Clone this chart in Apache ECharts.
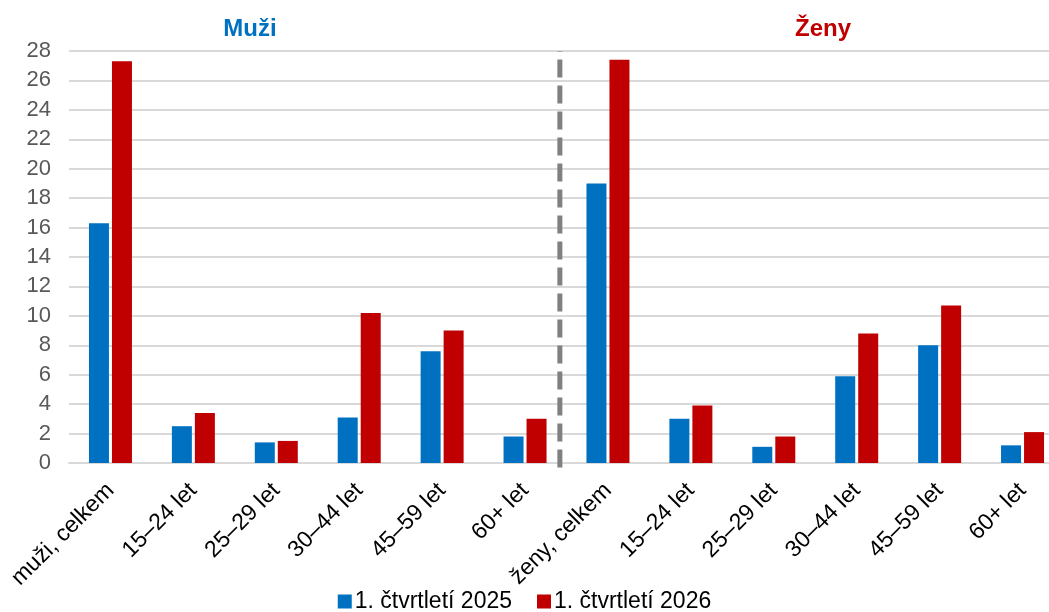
<!DOCTYPE html>
<html>
<head>
<meta charset="utf-8">
<script src="https://cdn.jsdelivr.net/npm/echarts@6/dist/echarts.min.js"></script>
<style>
  html, body { margin: 0; padding: 0; background: #fff; }
  #main { width: 1049px; height: 612px; }
</style>
</head>
<body>
<div id="main"></div>
<script>
// kategorie na ose x
const categories = ['muži, celkem', '15–24 let', '25–29 let', '30–44 let', '45–59 let', '60+ let',
  'ženy, celkem', '15–24 let', '25–29 let', '30–44 let', '45–59 let', '60+ let']
const seriesNames = ['1. čtvrtletí 2025', '1. čtvrtletí 2026']
const values2025 = [16.3, 2.5, 1.4, 3.1, 7.6, 1.8, 19.0, 3.0, 1.1, 5.9, 8.0, 1.2]
const values2026 = [27.3, 3.4, 1.5, 10.2, 9.0, 3.0, 27.4, 3.9, 1.8, 8.8, 10.7, 2.1]
const groupTitles = ['Muži', 'Ženy']
// hranice mezi skupinami (v jednotkách kategorií)
const dividerAt = 5.92

const font = '"Liberation Sans", Arial, sans-serif'
const chart = echarts.init(document.getElementById('main'))

const option = {
  animation: false,
  title: [
    {
      text: groupTitles[0], left: 245, top: 12, textAlign: 'center',
      textStyle: {color: '#0070C0', fontSize: 24, fontWeight: 'bold', fontFamily: font}
    },
    {
      text: groupTitles[1], left: 818, top: 12, textAlign: 'center',
      textStyle: {color: '#C00000', fontSize: 24, fontWeight: 'bold', fontFamily: font}
    }
  ],
  legend: {
    data: seriesNames,
    bottom: -6,
    left: 'center',
    itemWidth: 14,
    itemHeight: 14,
    itemGap: 25,
    icon: 'rect',
    textStyle: {fontSize: 23, color: '#000', fontFamily: font, padding: [0, 0, 0, -2]}
  },
  grid: {left: 69, width: 995, top: 51, bottom: 149, containLabel: false, outerBoundsMode: 'none'},
  xAxis: [
    {
      type: 'category',
      data: categories,
      axisTick: {show: false},
      axisLine: {lineStyle: {color: '#d9d9d9', width: 2}},
      axisLabel: {
        interval: 0, rotate: 45, fontSize: 23, color: '#000', fontFamily: font, margin: 24
      }
    },
    {
      type: 'value', min: 0, max: categories.length, show: false
    }
  ],
  yAxis: {
    type: 'value',
    min: 0,
    max: 28,
    interval: 2,
    axisLine: {show: false},
    axisTick: {show: false},
    axisLabel: {fontSize: 22, color: '#595959', fontFamily: font, margin: 18},
    splitLine: {lineStyle: {color: '#d9d9d9', width: 2}}
  },
  series: [
    {
      name: seriesNames[0],
      type: 'bar',
      data: values2025,
      barWidth: 20,
      barGap: '15%',
      itemStyle: {color: '#0070C0'}
    },
    {
      name: seriesNames[1],
      type: 'bar',
      data: values2026,
      barWidth: 20,
      itemStyle: {color: '#C00000'}
    },
    {
      type: 'line',
      xAxisIndex: 1,
      data: [[dividerAt, -0.3], [dividerAt, 28]],
      symbol: 'none',
      clip: false,
      silent: true,
      lineStyle: {color: '#808080', width: 5, type: [18, 8]}
    }
  ]
}
chart.setOption(option)
</script>
</body>
</html>
